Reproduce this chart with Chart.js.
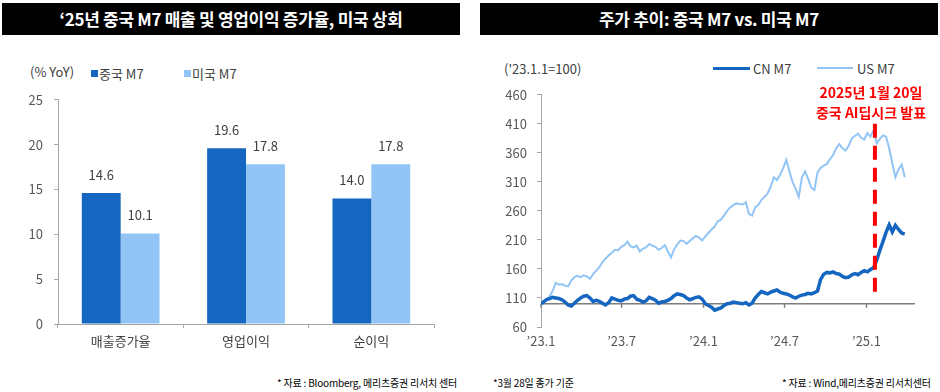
<!DOCTYPE html>
<html>
<head>
<meta charset="utf-8">
<script src="https://cdn.jsdelivr.net/npm/chart.js@4.4.1/dist/chart.umd.min.js"></script>
<style>
  body { margin: 0; width: 940px; height: 392px; background: #fff; position: relative; overflow: hidden;
         font-family: "Noto Sans CJK KR", "Noto Sans", sans-serif; }
  .header { position: absolute; top: 3px; height: 32px; background: #000; color: #fff;
            font-weight: bold; font-size: 17px; line-height: 32px; text-align: center; letter-spacing: -0.3px; }
  .abs { position: absolute; white-space: nowrap; }
  .unit { font-size: 13px; color: #404040; }
  .legend-text { font-size: 13px; color: #404040; }
  .note { font-size: 10px; color: #000; letter-spacing: -0.2px; }
  .anno { color: #ff0000; font-weight: bold; font-size: 14px; text-align: center; width: 140px; line-height: 20px; }
</style>
</head>
<body>

<div class="header" style="left:2px; width:458px;">‘25년 중국 M7 매출 및 영업이익 증가율, 미국 상회</div>
<div class="header" style="left:480px; width:458px;">주가 추이: 중국 M7 vs. 미국 M7</div>

<div class="abs unit" style="left:30px; top:62px;">(% YoY)</div>
<div class="abs" style="left:91px; top:70px; width:7px; height:7px; background:#1566C0;"></div>
<div class="abs legend-text" style="left:99px; top:64px;">중국 M7</div>
<div class="abs" style="left:184px; top:70px; width:7px; height:7px; background:#92C5F5;"></div>
<div class="abs legend-text" style="left:192px; top:64px;">미국 M7</div>

<div class="abs unit" style="left:504px; top:59px;">('23.1.1=100)</div>
<div class="abs" style="left:713px; top:67px; width:37px; height:3px; background:#1566C0;"></div>
<div class="abs legend-text" style="left:753px; top:59px;">CN M7</div>
<div class="abs" style="left:817px; top:67px; width:36px; height:2px; background:#92C5F5;"></div>
<div class="abs legend-text" style="left:857px; top:59px;">US M7</div>

<div style="position:absolute; left:0; top:81px; width:470px; height:279px;"><canvas id="barChart"></canvas></div>
<div style="position:absolute; left:480px; top:77px; width:460px; height:283px;"><canvas id="lineChart"></canvas></div>

<div class="abs anno" style="left:801px; top:82px;">2025년 1월 20일<br>중국 AI딥시크 발표</div>

<div class="abs note" style="left:277px; top:375px;">* 자료 : Bloomberg, 메리츠증권 리서치 센터</div>
<div class="abs note" style="left:493px; top:375px;">*3월 28일 종가 기준</div>
<div class="abs note" style="left:782px; top:375px;">* 자료 : Wind,메리츠증권 리서치센터</div>

<script>
// ---- left chart data ----
const barCategories = ['매출증가율', '영업이익', '순이익'];
const cnGrowth = [14.6, 19.6, 14.0];
const usGrowth = [10.1, 17.8, 17.8];
const barTicks = [0, 5, 10, 15, 20, 25];

// ---- right chart data ('23.1.1 = 100), weekly closes ----
const firstDay = '2023-01-01';
const cnM7 = [100, 103, 107, 109, 111, 110, 109, 107, 103, 98, 96, 101, 106, 110, 113, 114, 110, 104, 106, 104,
  101, 98, 102, 110, 108, 106, 105, 108, 109, 113, 114, 108, 106, 103, 105, 111, 109, 106, 101, 103,
  104, 106, 109, 114, 117, 116, 114, 110, 107, 109, 111, 112, 108, 100, 97, 94, 89, 91, 93, 97,
  100, 101, 103, 102, 101, 100, 102, 98, 101, 110, 116, 121, 119, 117, 120, 122, 124, 120, 118, 117,
  115, 112, 110, 113, 115, 116, 118, 117, 119, 122, 142, 151, 154, 153, 155, 152, 151, 147, 145, 146,
  150, 152, 150, 154, 157, 155, 159, 162, 175, 192, 207, 223, 236, 224, 235, 228, 222, 220];
const usM7 = [100, 103, 108, 112, 122, 136, 133, 134, 131, 130, 140, 146, 148, 146, 149, 147, 143, 151, 157, 163,
  172, 178, 183, 188, 193, 192, 198, 201, 207, 199, 197, 200, 190, 195, 197, 203, 200, 198, 193, 196,
  201, 190, 180, 194, 202, 209, 208, 203, 208, 213, 217, 214, 209, 216, 222, 228, 233, 242, 245, 252,
  260, 266, 270, 273, 272, 271, 275, 255, 252, 266, 270, 279, 284, 290, 302, 318, 313, 322, 334, 348,
  328, 310, 298, 284, 318, 328, 315, 300, 296, 326, 334, 338, 341, 349, 356, 368, 375, 368, 364, 372,
  385, 389, 393, 386, 383, 394, 388, 399, 376, 384, 390, 388, 368, 342, 318, 332, 340, 318];
const lineTickDates = ['2023-01-01', '2023-07-01', '2024-01-01', '2024-07-01', '2025-01-01'];
const lineTickLabels = ['’23.1', '’23.7', '’24.1', '’24.7', '’25.1'];
const lineYTicks = [60, 110, 160, 210, 260, 310, 360, 410, 460];
const eventDate = '2025-01-20';

const dayMs = 86400000;
function dayOf(s) { return Math.round((Date.parse(s) - Date.parse(firstDay)) / dayMs); }
// first point is the base date, then Friday closes from 2023-01-06
const lineDays = cnM7.map((v, i) => i === 0 ? 0 : 5 + 7 * (i - 1));

const DARK = '#1566C0';
const LIGHT = '#92C5F5';
const AXIS = '#A6A6A6';
const TICK_TXT = '#595959';
const tickFont = { family: '"Noto Sans CJK KR", "Noto Sans", sans-serif', size: 13 };

const barLabels = {
  id: 'barLabels',
  afterDatasetsDraw(chart) {
    const ctx = chart.ctx;
    ctx.save();
    ctx.font = '13px "Noto Sans CJK KR", "Noto Sans", sans-serif';
    ctx.fillStyle = '#404040';
    ctx.textAlign = 'center';
    ctx.textBaseline = 'middle';
    chart.data.datasets.forEach((ds, di) => {
      chart.getDatasetMeta(di).data.forEach((bar, i) => {
        ctx.fillText(ds.data[i].toFixed(1), bar.x, bar.y - 18);
      });
    });
    ctx.restore();
  }
};

new Chart(document.getElementById('barChart'), {
  type: 'bar',
  data: {
    labels: barCategories,
    datasets: [
      { label: '중국 M7', data: cnGrowth, backgroundColor: DARK },
      { label: '미국 M7', data: usGrowth, backgroundColor: LIGHT }
    ]
  },
  options: {
    responsive: true,
    maintainAspectRatio: false,
    animation: false,
    layout: { padding: { top: 2, right: 36, left: 0, bottom: 0 } },
    datasets: { bar: { categoryPercentage: 0.62, barPercentage: 1.0 } },
    plugins: { legend: { display: false }, tooltip: { enabled: false } },
    scales: {
      x: {
        grid: { drawOnChartArea: false, offset: true, tickLength: 4, color: AXIS },
        border: { color: AXIS },
        ticks: { font: tickFont, color: '#404040', padding: 5 },
        afterFit(scale) { scale.height = 36; }
      },
      y: {
        min: 0, max: 25,
        afterBuildTicks(scale) { scale.ticks = barTicks.map(v => ({ value: v })); },
        grid: { drawOnChartArea: false, tickLength: 4, color: AXIS },
        border: { color: AXIS },
        ticks: { font: tickFont, color: TICK_TXT, padding: 11 },
        afterFit(scale) { scale.width = 58; }
      }
    }
  },
  plugins: [barLabels]
});

const lineExtras = {
  id: 'lineExtras',
  beforeDatasetsDraw(chart) {
    const { ctx, chartArea, scales } = chart;
    const y100 = scales.y.getPixelForValue(100);
    ctx.save();
    ctx.strokeStyle = '#7F7F7F';
    ctx.lineWidth = 1.5;
    ctx.beginPath();
    ctx.moveTo(chartArea.left, y100);
    ctx.lineTo(chartArea.right, y100);
    lineTickDates.forEach(d => {
      const x = scales.x.getPixelForValue(dayOf(d));
      ctx.moveTo(x, y100);
      ctx.lineTo(x, y100 + 4);
    });
    ctx.stroke();
    ctx.restore();
  },
  afterDatasetsDraw(chart) {
    const { ctx, scales } = chart;
    const x = scales.x.getPixelForValue(dayOf(eventDate));
    ctx.save();
    ctx.strokeStyle = '#FF0000';
    ctx.lineWidth = 4;
    ctx.setLineDash([14, 8]);
    ctx.beginPath();
    ctx.moveTo(x, scales.y.getPixelForValue(410));
    ctx.lineTo(x, scales.y.getPixelForValue(112));
    ctx.stroke();
    ctx.restore();
  }
};

new Chart(document.getElementById('lineChart'), {
  type: 'line',
  data: {
    datasets: [
      { label: 'CN M7', data: cnM7.map((v, i) => ({ x: lineDays[i], y: v })), borderColor: DARK, borderWidth: 3.5, pointRadius: 0 },
      { label: 'US M7', data: usM7.map((v, i) => ({ x: lineDays[i], y: v })), borderColor: LIGHT, borderWidth: 2, pointRadius: 0 }
    ]
  },
  options: {
    responsive: true,
    maintainAspectRatio: false,
    animation: false,
    layout: { padding: { top: 6, right: 25, left: 0, bottom: 0 } },
    plugins: { legend: { display: false }, tooltip: { enabled: false } },
    scales: {
      x: {
        type: 'linear',
        min: 0, max: 840,
        afterBuildTicks(scale) { scale.ticks = lineTickDates.map(d => ({ value: dayOf(d) })); },
        grid: { display: false },
        border: { display: false },
        ticks: {
          font: tickFont, color: TICK_TXT, padding: -2, maxRotation: 0,
          callback(v) { const k = lineTickDates.findIndex(d => dayOf(d) === v); return k >= 0 ? lineTickLabels[k] : ''; }
        },
        afterFit(scale) { scale.height = 33; }
      },
      y: {
        min: 60, max: 460,
        afterBuildTicks(scale) { scale.ticks = lineYTicks.map(v => ({ value: v })); },
        grid: { drawOnChartArea: false, tickLength: 4, color: AXIS },
        border: { color: AXIS },
        ticks: { font: tickFont, color: TICK_TXT, padding: 10 },
        afterFit(scale) { scale.width = 61; }
      }
    }
  },
  plugins: [lineExtras]
});
</script>
</body>
</html>
